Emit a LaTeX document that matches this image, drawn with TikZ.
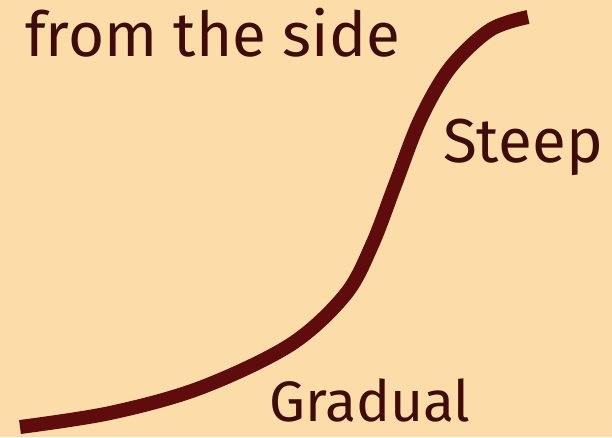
\documentclass[tikz,border=0pt]{standalone}
\usepackage{fontspec}
\setmainfont{Fira Sans}
\definecolor{bg}{RGB}{252,221,170}
\definecolor{curve}{RGB}{94,12,12}
\definecolor{ink}{RGB}{62,12,10}
\begin{document}
\begin{tikzpicture}[x=1pt,y=-1pt,
  lbl/.style={anchor=base west,inner sep=0pt,text=ink}]
\fill[bg] (0,0) rectangle (612,437);
\useasboundingbox (0,0) rectangle (612,437);
\draw[curve,line width=14pt,line cap=butt] plot[smooth,tension=0.55] coordinates
 {(20,427) (110,413) (200,388) (290,345) (345,295) (372,245) (395,185) (420,120) (450,68) (490,30) (528,17)};
\node[lbl,font=\fontsize{62}{66}\selectfont] (side) at (25,56) {from the side};
\node[lbl,font=\fontsize{62}{66}\selectfont] (steep) at (443,162) {Steep};
\node[lbl,font=\fontsize{57}{60}\selectfont,text depth=0pt] (grad) at (269,421) {Gradual};
\end{tikzpicture}
\end{document}
